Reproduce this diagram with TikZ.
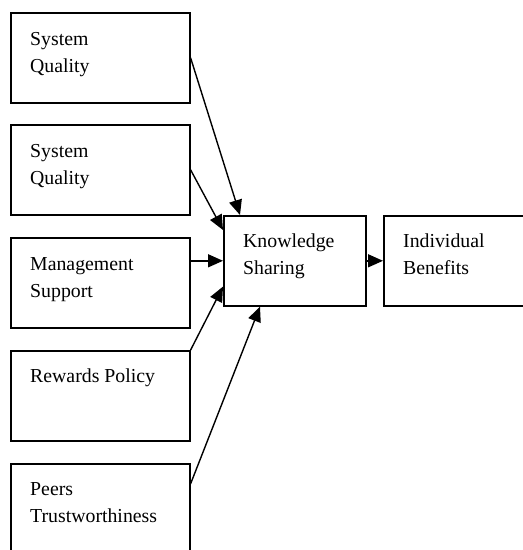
\documentclass[tikz,border=0pt]{standalone}
\usepackage{fontspec}
\setmainfont{Liberation Serif}
\usetikzlibrary{arrows.meta}
\begin{document}
\begin{tikzpicture}[x=1pt,y=-1pt,
  box/.style={draw, line width=1.6pt, inner sep=0pt, anchor=north west, minimum width=179pt, minimum height=90pt},
  lbl/.style={anchor=base west, align=left, inner sep=0pt, font=\fontsize{19.8}{27.7}\selectfont},
  arr/.style={line width=1.4pt, -{Triangle[length=15pt,width=13pt]}}]
\useasboundingbox (0,0) rectangle (523,550);
% boxes
\node[box] (b1) at (10,12) {};
\node[box] (b2) at (10,124) {};
\node[box] (b3) at (10,237) {};
\node[box] (b4) at (10,350) {};
\node[box] (b5) at (10,463) {};
\node[box, minimum width=142pt] (ks) at (223,215) {};
\node[box, minimum width=160pt] (ib) at (383,215) {};
% labels (base anchor = baseline of the last line)
\node[lbl] (t1) at ([xshift=20pt,yshift=-60.7pt]b1.north west) {System\\Quality};
\node[lbl] (t2) at ([xshift=20pt,yshift=-60.7pt]b2.north west) {System\\Quality};
\node[lbl] (t3) at ([xshift=20pt,yshift=-60.7pt]b3.north west) {Management\\Support};
\node[lbl] (t4) at ([xshift=20pt,yshift=-32pt]b4.north west) {Rewards Policy};
\node[lbl] (t5) at ([xshift=20pt,yshift=-59.7pt]b5.north west) {Peers\\Trustworthiness};
\node[lbl] (t6) at ([xshift=20pt,yshift=-59.7pt]ks.north west) {Knowledge\\Sharing};
\node[lbl] (t7) at ([xshift=20pt,yshift=-59.7pt]ib.north west) {Individual\\Benefits};
% connectors
\draw[arr] (b1.east) -- ([xshift=17pt]ks.north west);
\draw[arr] (b2.east) -- ([yshift=-15pt]ks.north west);
\draw[arr] (b3.east |- ks.west) -- (ks.west);
\draw[arr] (b4.north east) -- ([yshift=20pt]ks.south west);
\draw[arr] ([yshift=25pt]b5.east) -- ([xshift=37pt]ks.south west);
\draw[arr] (ks.east) -- (ib.west);
\end{tikzpicture}
\end{document}
